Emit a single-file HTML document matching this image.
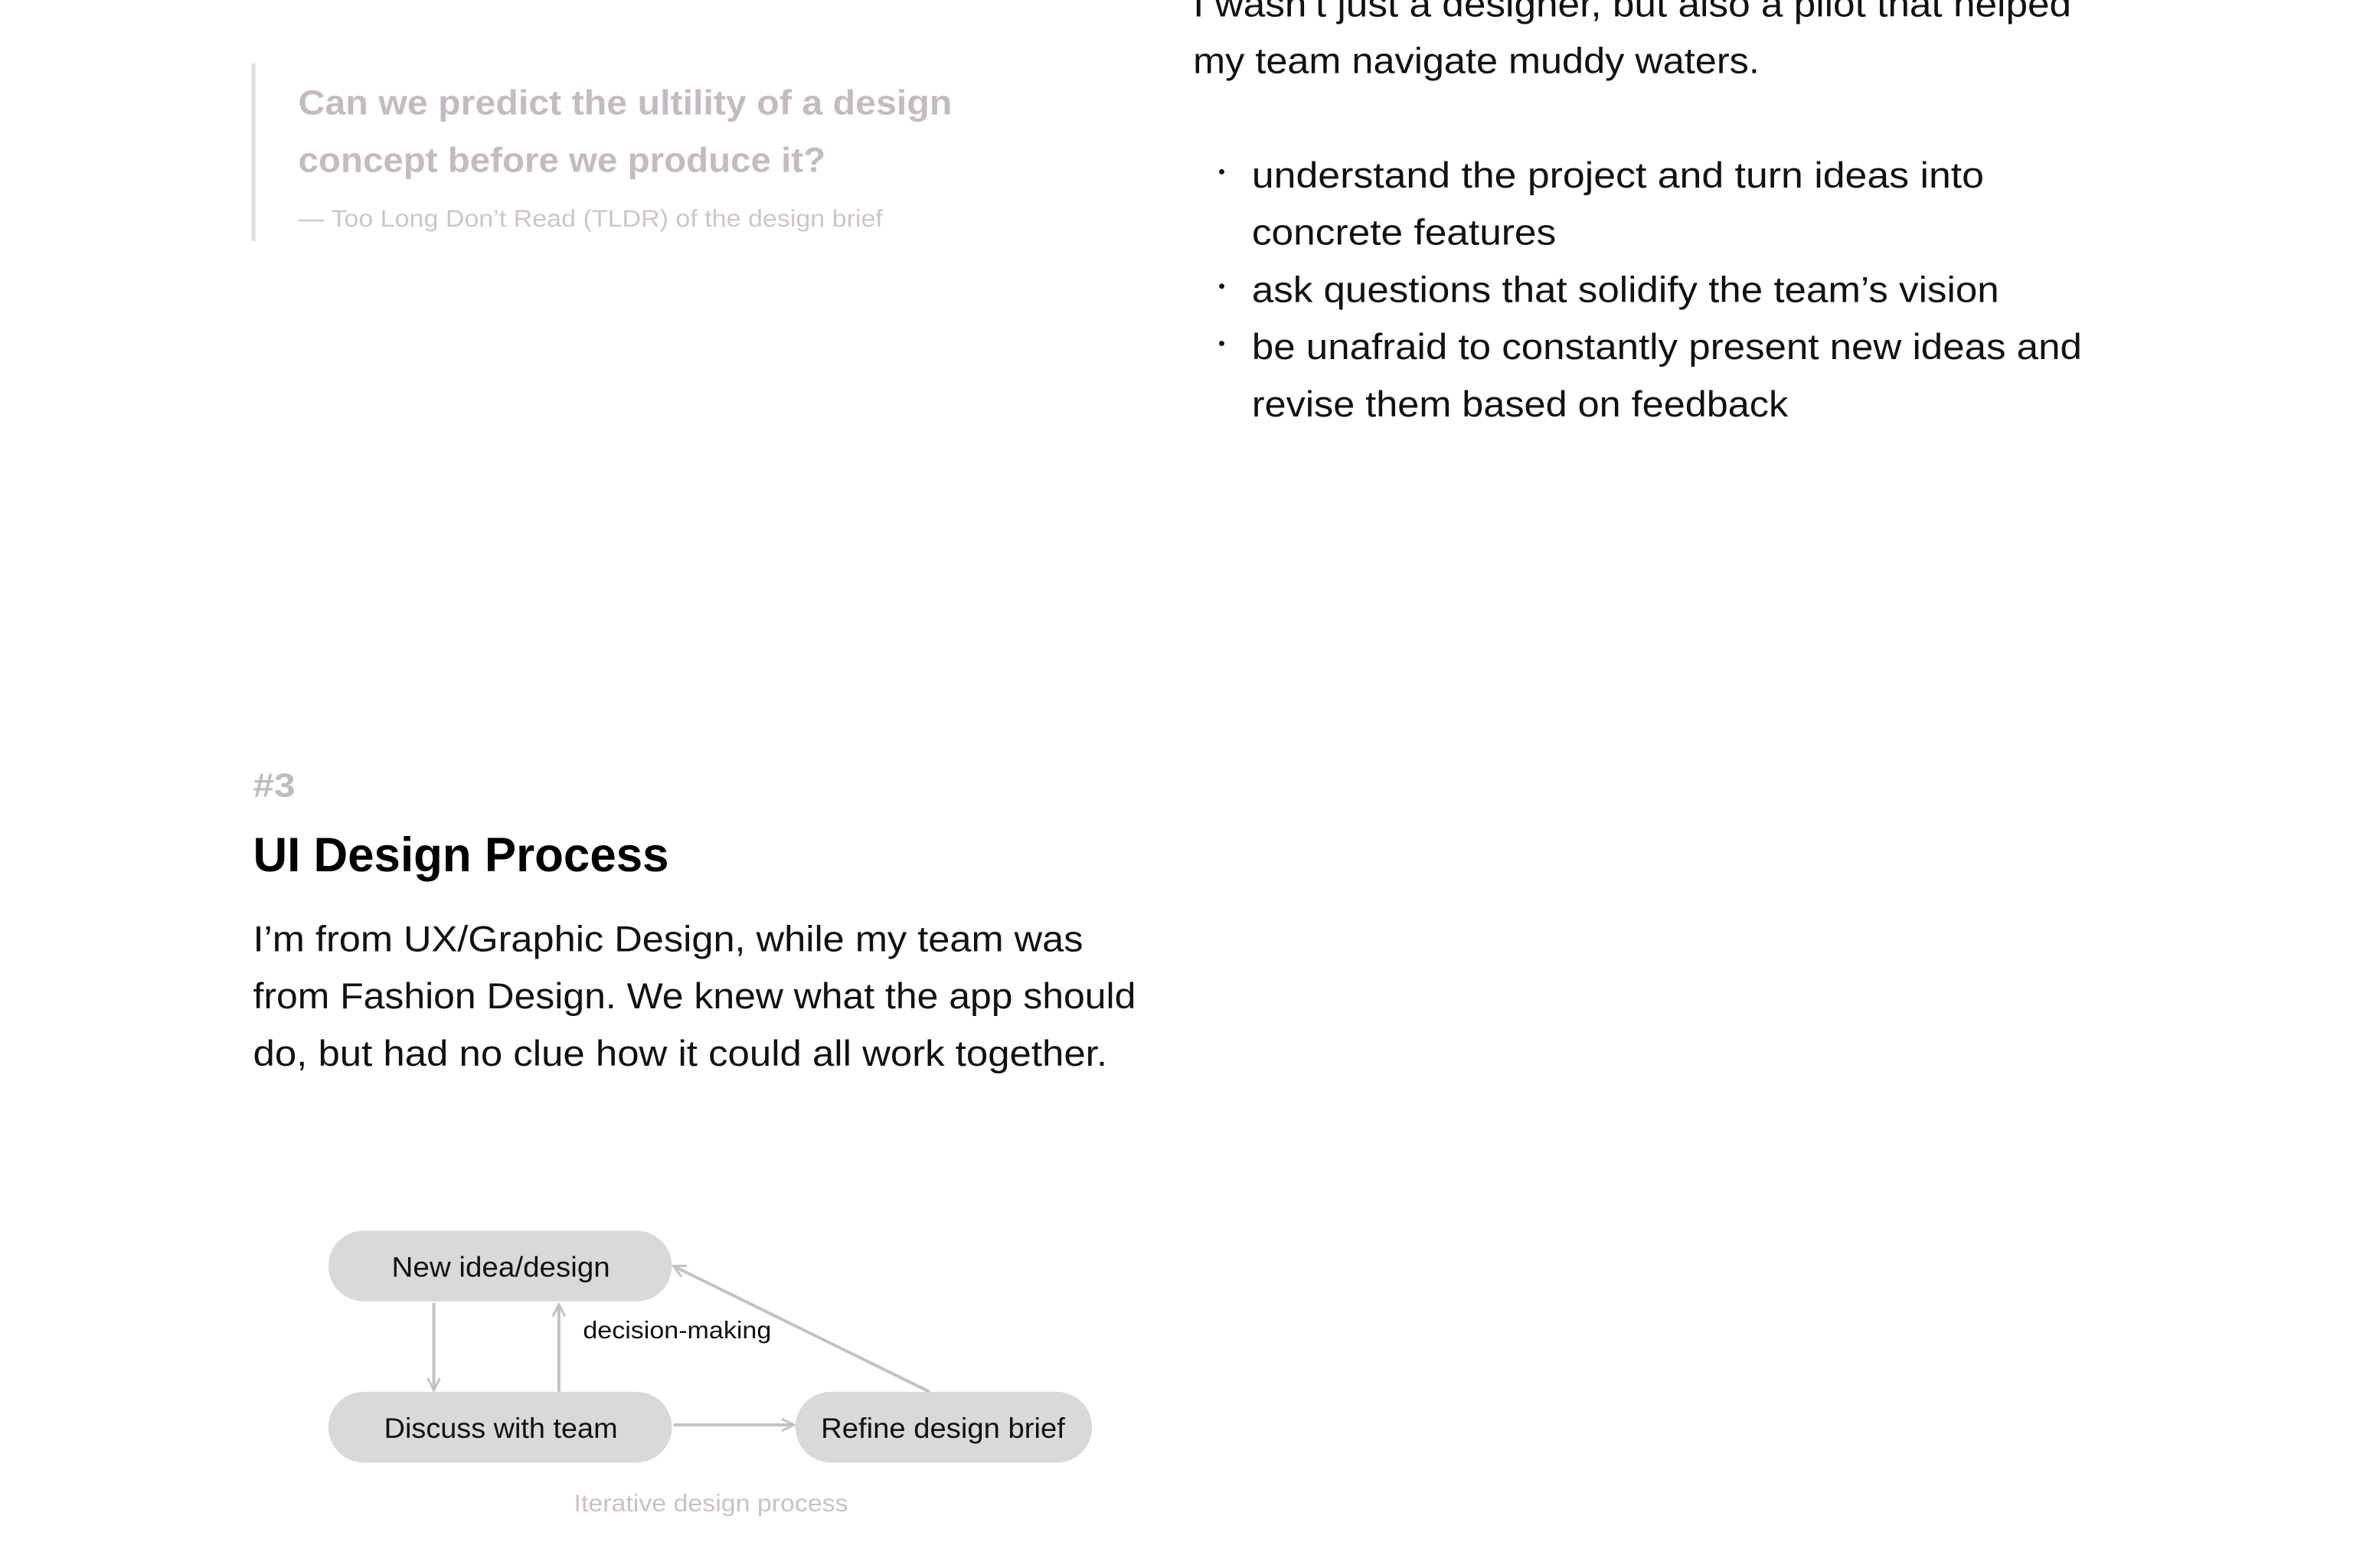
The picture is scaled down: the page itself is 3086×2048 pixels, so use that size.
<!DOCTYPE html>
<html><head><meta charset="utf-8"><style>
html,body{margin:0;padding:0;background:#fff;width:3086px;height:2048px;overflow:hidden}
svg{display:block}
text{font-family:"Liberation Sans",sans-serif}
</style></head><body>
<svg width="3086" height="2048" viewBox="0 0 3137 2082" preserveAspectRatio="xMinYMin meet" xmlns="http://www.w3.org/2000/svg">
<defs>
<marker id="ah" viewBox="0 0 20 20" refX="18" refY="10" markerWidth="20" markerHeight="20" markerUnits="userSpaceOnUse" orient="auto">
<path d="M2 2 L18 10 L2 18" fill="none" stroke="#c2c2c2" stroke-width="3"/>
</marker>
</defs>
<!-- quote -->
<rect x="334" y="84" width="5" height="236" fill="#dcdcdc"/>
<g fill="#c4bcbc" font-weight="bold" font-size="46">
<text x="396" y="152" textLength="868" lengthAdjust="spacingAndGlyphs">Can we predict the ultility of a design</text>
<text x="396" y="228" textLength="700" lengthAdjust="spacingAndGlyphs">concept before we produce it?</text>
</g>
<text x="396" y="301" font-size="32" fill="#cdc6c6" textLength="776" lengthAdjust="spacingAndGlyphs">— Too Long Don’t Read (TLDR) of the design brief</text>

<!-- right column -->
<g fill="#111" font-size="48">
<text x="1584" y="22" textLength="1166" lengthAdjust="spacingAndGlyphs">I wasn’t just a designer, but also a pilot that helped</text>
<text x="1584" y="97" textLength="752" lengthAdjust="spacingAndGlyphs">my team navigate muddy waters.</text>
<text x="1662" y="249" textLength="972" lengthAdjust="spacingAndGlyphs">understand the project and turn ideas into</text>
<text x="1662" y="325" textLength="404" lengthAdjust="spacingAndGlyphs">concrete features</text>
<text x="1662" y="401" textLength="992" lengthAdjust="spacingAndGlyphs">ask questions that solidify the team’s vision</text>
<text x="1662" y="477" textLength="1102" lengthAdjust="spacingAndGlyphs">be unafraid to constantly present new ideas and</text>
<text x="1662" y="553" textLength="712" lengthAdjust="spacingAndGlyphs">revise them based on feedback</text>
</g>
<g fill="#111">
<circle cx="1622" cy="228" r="3.5"/><circle cx="1622" cy="380" r="3.5"/><circle cx="1622" cy="456" r="3.5"/>
</g>

<!-- section 3 -->
<text x="336" y="1058" font-size="44" font-weight="bold" fill="#bdbdbd" textLength="56" lengthAdjust="spacingAndGlyphs">#3</text>
<text x="336" y="1157" font-size="64" font-weight="bold" fill="#000" textLength="552" lengthAdjust="spacingAndGlyphs">UI Design Process</text>
<g fill="#111" font-size="48">
<text x="336" y="1263" textLength="1102" lengthAdjust="spacingAndGlyphs">I’m from UX/Graphic Design, while my team was</text>
<text x="336" y="1339" textLength="1172" lengthAdjust="spacingAndGlyphs">from Fashion Design. We knew what the app should</text>
<text x="336" y="1415" textLength="1134" lengthAdjust="spacingAndGlyphs">do, but had no clue how it could all work together.</text>
</g>

<!-- diagram -->
<rect x="436" y="1634" width="456" height="94" rx="47" fill="#d9d9d9"/>
<rect x="436" y="1848" width="456" height="94" rx="47" fill="#d9d9d9"/>
<rect x="1056" y="1848" width="394" height="94" rx="47" fill="#d9d9d9"/>
<g stroke="#c2c2c2" stroke-width="4" fill="none">
<line x1="576" y1="1730" x2="576" y2="1846" marker-end="url(#ah)"/>
<line x1="742" y1="1848" x2="742" y2="1732" marker-end="url(#ah)"/>
<line x1="894" y1="1892" x2="1054" y2="1892" marker-end="url(#ah)"/>
<line x1="1234" y1="1848" x2="894" y2="1681" marker-end="url(#ah)"/>
</g>
<g fill="#111" font-size="38">
<text x="520" y="1695" textLength="290" lengthAdjust="spacingAndGlyphs">New idea/design</text>
<text x="510" y="1909" textLength="310" lengthAdjust="spacingAndGlyphs">Discuss with team</text>
<text x="1090" y="1909" textLength="324" lengthAdjust="spacingAndGlyphs">Refine design brief</text>
</g>
<text x="774" y="1777" font-size="32" fill="#111" textLength="250" lengthAdjust="spacingAndGlyphs">decision-making</text>
<text x="762" y="2007" font-size="32" fill="#c9c2c2" textLength="364" lengthAdjust="spacingAndGlyphs">Iterative design process</text>
</svg>
</body></html>
